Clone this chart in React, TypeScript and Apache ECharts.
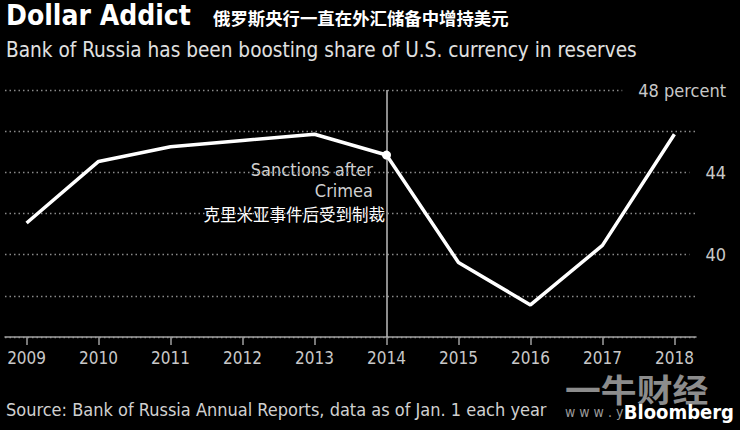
import React, { useEffect, useRef } from "react";
import * as echarts from "echarts";

const years = [2009, 2010, 2011, 2012, 2013, 2014, 2015, 2016, 2017, 2018];
const usdShare = [41.54, 44.53, 45.24, 45.55, 45.85, 44.84, 39.62, 37.56, 40.45, 45.85];
const yTickLabels: Record<number, string> = { 48: "48 percent", 44: "44", 40: "40" };
const sanctionYear = 2014;

const LATIN = "'DejaVu Sans Condensed', 'DejaVu Sans', sans-serif";
const CJK = "'Noto Sans CJK SC', sans-serif";

export default function App() {
  const ref = useRef<HTMLDivElement>(null);
  useEffect(() => {
    if (!ref.current) return;
    const chart = echarts.init(ref.current, undefined, { renderer: "svg" });
    const data = years.map((y, i) =>
      y === sanctionYear
        ? { value: [y, usdShare[i]], symbol: "circle", symbolSize: 9, itemStyle: { color: "#ffffff" } }
        : { value: [y, usdShare[i]], symbol: "none" }
    );
    chart.setOption({
      animation: false,
      backgroundColor: "#000000",
      grid: { left: 5, right: 44, top: 90, bottom: 93, containLabel: false },
      xAxis: {
        type: "value",
        min: 2008.7,
        max: 2018.3,
        axisLine: { show: true, lineStyle: { color: "#a0a0a0", width: 1.5 } },
        axisTick: { show: true, length: 8, customValues: years, lineStyle: { color: "#a0a0a0", width: 1.5 } },
        axisLabel: {
          customValues: years,
          formatter: (v: number) => String(v),
          color: "#c8c8c8",
          fontFamily: LATIN,
          fontSize: 17,
          margin: 12,
        },
        splitLine: { show: false },
      },
      yAxis: {
        type: "value",
        position: "right",
        min: 36,
        max: 48,
        interval: 2,
        axisLine: { show: false },
        axisTick: { show: false },
        splitLine: { show: true, lineStyle: { color: "#8a8a8a", type: [1.5, 3], width: 1.3 } },
        axisLabel: {
          align: "right",
          margin: 30,
          color: "#c8c8c8",
          fontFamily: LATIN,
          fontSize: 18,
          formatter: (v: number) => (yTickLabels[v] ? `{b|${yTickLabels[v]}}` : ""),
          rich: {
            b: {
              color: "#c8c8c8",
              fontFamily: LATIN,
              fontSize: 18,
              backgroundColor: "#000000",
              padding: [2, 0, 2, 16],
            },
          },
        },
      },
      series: [
        {
          type: "line",
          data,
          symbol: "none",
          lineStyle: { color: "#ffffff", width: 3.5 },
          itemStyle: { color: "#ffffff" },
          z: 5,
          markLine: {
            silent: true,
            symbol: ["none", "none"],
            label: { show: false },
            lineStyle: { color: "#bdbdbd", width: 1.5, type: "solid" },
            data: [{ xAxis: sanctionYear }],
            z: 3,
          },
        },
      ],
      graphic: [
        {
          type: "text",
          left: 6,
          top: 1,
          style: { text: "Dollar Addict", fill: "#ffffff", font: `bold 28px ${LATIN}` },
        },
        {
          type: "text",
          left: 213,
          top: 9,
          style: { text: "俄罗斯央行一直在外汇储备中增持美元", fill: "#ffffff", font: `bold 17.4px ${CJK}` },
        },
        {
          type: "text",
          left: 6,
          top: 39,
          style: {
            text: "Bank of Russia has been boosting share of U.S. currency in reserves",
            fill: "#e0e0e0",
            font: `20.6px ${LATIN}`,
          },
        },
        {
          type: "text",
          x: 373,
          y: 169,
          style: { text: "Sanctions after", fill: "#d0d0d0", font: `18px ${LATIN}`, align: "right", verticalAlign: "middle" },
        },
        {
          type: "text",
          x: 373,
          y: 190,
          style: { text: "Crimea", fill: "#d0d0d0", font: `18px ${LATIN}`, align: "right", verticalAlign: "middle" },
        },
        {
          type: "text",
          x: 385,
          y: 214,
          style: { text: "克里米亚事件后受到制裁", fill: "#ffffff", font: `16.5px ${CJK}`, align: "right", verticalAlign: "middle" },
        },
        {
          type: "text",
          left: 6,
          top: 400,
          style: {
            text: "Source: Bank of Russia Annual Reports, data as of Jan. 1 each year",
            fill: "#d0d0d0",
            font: `18px ${LATIN}`,
          },
        },
        {
          type: "text",
          x: 565,
          y: 388,
          scaleX: 1.12,
          style: { text: "一牛财经", fill: "#8c8c8c", font: `bold 32px ${CJK}`, verticalAlign: "middle" },
        },
        {
          type: "text",
          x: 565,
          y: 412,
          style: { text: "w w w . y", fill: "#9a9a9a", font: `14px ${LATIN}`, verticalAlign: "middle" },
        },
        {
          type: "text",
          x: 734,
          y: 412,
          style: { text: "Bloomberg", fill: "#ffffff", font: `bold 20px ${LATIN}`, align: "right", verticalAlign: "middle" },
        },
      ],
    });
    return () => chart.dispose();
  }, []);
  return (
    <div
      ref={ref}
      style={{ position: "fixed", left: 0, top: 0, width: 740, height: 430, background: "#000" }}
    />
  );
}
